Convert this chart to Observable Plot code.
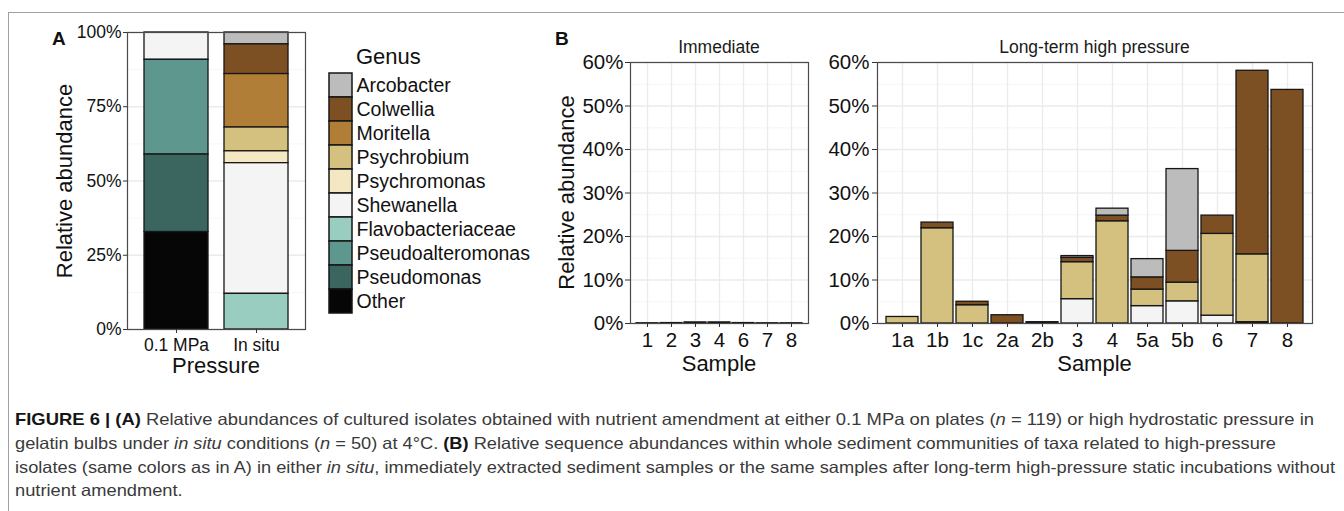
<!DOCTYPE html>
<html>
<head>
<meta charset="utf-8">
<script src="https://cdn.jsdelivr.net/npm/d3@7"></script>
<script src="https://cdn.jsdelivr.net/npm/@observablehq/plot@0.6"></script>
<style>
  html, body { margin: 0; padding: 0; background: #fff; }
  #fig { position: relative; width: 1344px; height: 511px; overflow: hidden; background: #fff;
         font-family: "Liberation Sans", Arial, Helvetica, sans-serif; color: #111; }
  #fig > svg { position: absolute; }
  .frameLines { position: absolute; left: 8px; top: 12px; width: 1400px; height: 520px;
                border-top: 1px solid #a0a0a0; border-left: 1px solid #a0a0a0; }
  .cap { position: absolute; left: 15px; white-space: nowrap; font-size: 16.5px; line-height: 24px;
         font-family: "Liberation Sans", Arial, sans-serif; color: #3a3a3a;
         transform-origin: 0 50%; }
  .cap b { color: #151515; }
</style>
</head>
<body>
<div id="fig"><div class="frameLines"></div></div>
<script>
// ---------------- data ----------------
const genera = ["Arcobacter", "Colwellia", "Moritella", "Psychrobium", "Psychromonas",
                "Shewanella", "Flavobacteriaceae", "Pseudoalteromonas", "Pseudomonas", "Other"];
const genusColors = ["#bcbcbc", "#7c5022", "#b07e36", "#d5c17f", "#f3e8c1",
                     "#f3f4f3", "#98cdc0", "#5d978e", "#3a665f", "#060606"];

// Panel A: % of isolates per genus (aligned with genera)
const pressureLabels = ["0.1 MPa", "In situ"];
const pctPlates = [0, 0, 0, 0, 0, 9.2, 0, 31.9, 26.1, 32.8];
const pctInSitu = [4, 10, 18, 8, 4, 44, 12, 0, 0, 0];

// Panel B, Immediate
const immediateSamples = ["1", "2", "3", "4", "6", "7", "8"];
const immColwellia = [0.05, 0.1, 0.25, 0.25, 0.1, 0.05, 0.05];

// Panel B, Long-term high pressure
const longTermSamples = ["1a", "1b", "1c", "2a", "2b", "3", "4", "5a", "5b", "6", "7", "8"];
const ltShewanella  = [0,   0,    0,   0,   0,   5.6, 0,    4.0, 5.1,  1.8,  0.3,  0];
const ltPsychrobium = [1.5, 21.9, 4.2, 0,   0,   8.5, 23.5, 3.8, 4.3,  18.8, 15.6, 0];
const ltColwellia   = [0,   1.3,  0.8, 1.9, 0.3, 1.0, 1.3,  2.8, 7.3,  4.2,  42.2, 53.7];
const ltArcobacter  = [0,   0,    0,   0,   0,   0.4, 1.6,  4.2, 18.8, 0,    0,    0];

const yTicksA = [0, 25, 50, 75, 100];
const yMinorA = [12.5, 37.5, 62.5, 87.5];
const yTicksB = [0, 10, 20, 30, 40, 50, 60];
const yMinorB = [5, 15, 25, 35, 45, 55];

// ---------------- tables ----------------
const stackOrder = genera.slice().reverse(); // bottom -> top
const tableA = [];
[pctPlates, pctInSitu].forEach((arr, i) => arr.forEach((v, j) => {
  if (v > 0) tableA.push({category: pressureLabels[i], genus: genera[j], value: v});
}));
const tableImm = immediateSamples.map((s, i) => ({sample: s, genus: "Colwellia", value: immColwellia[i]}));
const tableLT = [];
[["Shewanella", ltShewanella], ["Psychrobium", ltPsychrobium], ["Colwellia", ltColwellia], ["Arcobacter", ltArcobacter]]
  .forEach(([g, arr]) => arr.forEach((v, i) => { if (v > 0) tableLT.push({sample: longTermSamples[i], genus: g, value: v}); }));

const FONT = '"Liberation Sans", Arial, Helvetica, sans-serif';
const fig = document.getElementById("fig");
const color = {domain: genera, range: genusColors};
const gridMajor = {stroke: "#ebebeb", strokeOpacity: 1, strokeWidth: 1.3};
const gridMinor = {stroke: "#f2f2f2", strokeOpacity: 1, strokeWidth: 0.7};
const barStyle = {stroke: "#161616", strokeWidth: 1.3};

function place(svg, left, top) {
  svg.style.left = left + "px";
  svg.style.top = top + "px";
  svg.style.maxWidth = "none";
  fig.appendChild(svg);
}

// ---------------- Panel A ----------------
const plotA = Plot.plot({
  width: 320, height: 380,
  marginLeft: 127, marginRight: 15, marginTop: 32, marginBottom: 51,
  style: {fontFamily: FONT, fontSize: "17.5px", color: "#111", background: "transparent", overflow: "visible"},
  x: {domain: pressureLabels, padding: 0.2, label: null},
  y: {domain: [0, 100], label: null},
  color,
  marks: [
    Plot.gridY(yMinorA, gridMinor),
    Plot.gridY(yTicksA, gridMajor),
    Plot.gridX(gridMajor),
    Plot.barY(tableA, {x: "category", y: "value", fill: "genus", order: stackOrder, ...barStyle}),
    Plot.frame({stroke: "#4a4a4a", strokeWidth: 1.2}),
    Plot.axisY(yTicksA, {tickSize: 4, tickPadding: 2, tickFormat: d => d + "%", label: null, stroke: "#333", fill: "#111"}),
    Plot.axisX({tickSize: 4, tickPadding: 5, label: null, stroke: "#333", fill: "#111"})
  ]
});
place(plotA, 0, 0);

// ---------------- Legend ----------------
const legend = Plot.plot({
  width: 230, height: 380,
  marginLeft: 9, marginRight: 198, marginTop: 69, marginBottom: 63,
  style: {fontFamily: FONT, fontSize: "19.5px", color: "#111", background: "transparent", overflow: "visible"},
  x: {axis: null},
  y: {domain: genera, padding: 0, axis: null},
  color,
  marks: [
    Plot.cell(genera, {y: d => d, fill: d => d, stroke: "#161616", strokeWidth: 1.5}),
    Plot.text(genera, {y: d => d, text: d => d, frameAnchor: "right", textAnchor: "start", dx: 4, fill: "#111"})
  ]
});
place(legend, 320, 0);

// ---------------- Panel B: Immediate ----------------
const plotImm = Plot.plot({
  width: 270, height: 380,
  marginLeft: 80, marginRight: 12, marginTop: 62, marginBottom: 57,
  style: {fontFamily: FONT, fontSize: "20.5px", color: "#111", background: "transparent", overflow: "visible"},
  x: {domain: immediateSamples, paddingInner: 0.1, paddingOuter: 0.15, label: null},
  y: {domain: [0, 60], label: null},
  color,
  marks: [
    Plot.gridY(yMinorB, gridMinor),
    Plot.gridY(yTicksB, gridMajor),
    Plot.gridX(gridMajor),
    Plot.barY(tableImm, {x: "sample", y: "value", fill: "genus", order: stackOrder, ...barStyle}),
    Plot.frame({stroke: "#4a4a4a", strokeWidth: 1.2}),
    Plot.axisY(yTicksB, {tickSize: 5, tickPadding: 2, tickFormat: d => d + "%", label: null, stroke: "#333", fill: "#111"}),
    Plot.axisX({tickSize: 4, tickPadding: 5, label: null, stroke: "#333", fill: "#111"})
  ]
});
place(plotImm, 550, 0);

// ---------------- Panel B: Long-term ----------------
const plotLT = Plot.plot({
  width: 524, height: 380,
  marginLeft: 57, marginRight: 32, marginTop: 62, marginBottom: 57,
  style: {fontFamily: FONT, fontSize: "20.5px", color: "#111", background: "transparent", overflow: "visible"},
  x: {domain: longTermSamples, paddingInner: 0.1, paddingOuter: 0.15, label: null},
  y: {domain: [0, 60], label: null},
  color,
  marks: [
    Plot.gridY(yMinorB, gridMinor),
    Plot.gridY(yTicksB, gridMajor),
    Plot.gridX(gridMajor),
    Plot.barY(tableLT, {x: "sample", y: "value", fill: "genus", order: stackOrder, ...barStyle}),
    Plot.frame({stroke: "#4a4a4a", strokeWidth: 1.2}),
    Plot.axisY(yTicksB, {tickSize: 5, tickPadding: 3, tickFormat: d => d + "%", label: null, stroke: "#333", fill: "#111"}),
    Plot.axisX({tickSize: 4, tickPadding: 5, label: null, stroke: "#333", fill: "#111"})
  ]
});
place(plotLT, 820, 0);

// ---------------- titles overlay ----------------
const NS = "http://www.w3.org/2000/svg";
const over = document.createElementNS(NS, "svg");
over.setAttribute("width", 1344); over.setAttribute("height", 390);
over.style.left = "0px"; over.style.top = "0px"; over.style.position = "absolute";
over.style.fontFamily = FONT;
fig.appendChild(over);
function addText(str, x, y, size, opts = {}) {
  const t = document.createElementNS(NS, "text");
  t.textContent = str;
  t.setAttribute("x", x); t.setAttribute("y", y);
  t.setAttribute("font-size", size);
  t.setAttribute("fill", opts.fill || "#111");
  t.setAttribute("text-anchor", opts.anchor || "middle");
  if (opts.bold) t.setAttribute("font-weight", "bold");
  if (opts.rotate) t.setAttribute("transform", `rotate(-90 ${x} ${y})`);
  over.appendChild(t);
}
addText("A", 52, 45, 19, {bold: true, anchor: "start"});
addText("B", 555, 45, 19, {bold: true, anchor: "start"});
addText("Immediate", 719, 52.5, 17.5, {fill: "#1a1a1a"});
addText("Long-term high pressure", 1094.5, 52.5, 17.5, {fill: "#1a1a1a"});
addText("Genus", 356, 64, 22, {anchor: "start"});
addText("Pressure", 216, 373, 22);
addText("Sample", 719, 370.5, 22);
addText("Sample", 1094.5, 370.5, 22);
addText("Relative abundance", 72, 181, 22, {rotate: true});
addText("Relative abundance", 574, 192.5, 22, {rotate: true});

// ---------------- caption ----------------
const captionLines = [
  '<b>FIGURE 6 | (A)</b> Relative abundances of cultured isolates obtained with nutrient amendment at either 0.1 MPa on plates (<i>n</i> = 119) or high hydrostatic pressure in',
  'gelatin bulbs under <i>in situ</i> conditions (<i>n</i> = 50) at 4°C. <b>(B)</b> Relative sequence abundances within whole sediment communities of taxa related to high-pressure',
  'isolates (same colors as in A) in either <i>in situ</i>, immediately extracted sediment samples or the same samples after long-term high-pressure static incubations without',
  'nutrient amendment.'
];
const captionCenters = [419, 443, 467, 490];
const captionRight = [1314, 1276, 1335];   // right ends of the full lines
const capDivs = captionLines.map((html, i) => {
  const d = document.createElement("div");
  d.className = "cap";
  d.innerHTML = html;
  d.style.top = (captionCenters[i] - 12) + "px";
  fig.appendChild(d);
  return d;
});
const scales = captionRight.map((r, i) => (r - 15) / capDivs[i].getBoundingClientRect().width);
const meanScale = d3.mean(scales);
capDivs.forEach((d, i) => {
  d.style.transform = `scaleX(${i < scales.length ? scales[i] : meanScale})`;
});
</script>
</body>
</html>
